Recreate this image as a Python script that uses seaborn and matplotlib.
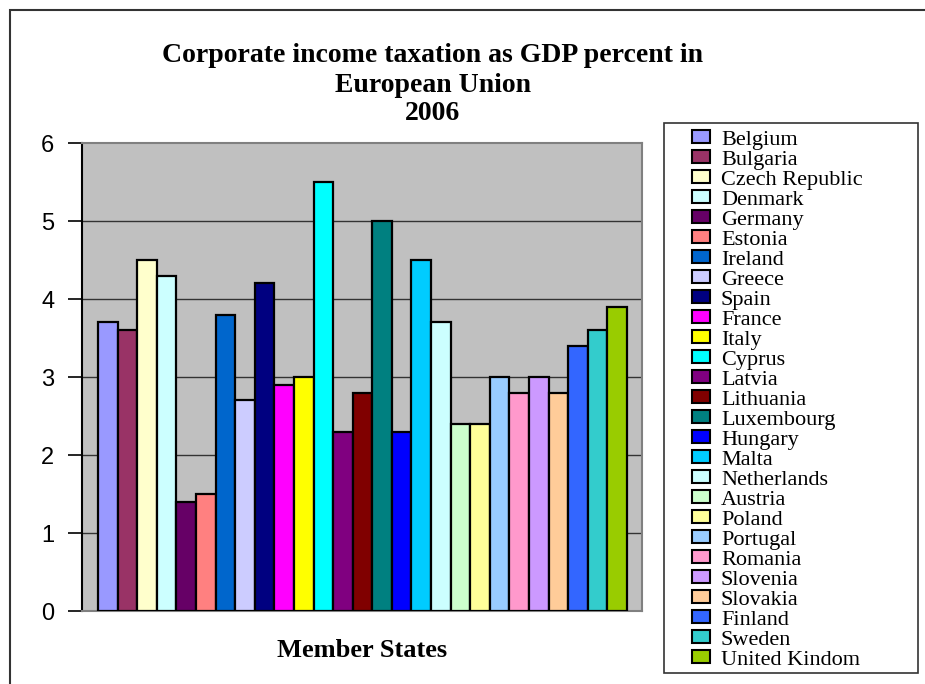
import matplotlib
matplotlib.use("Agg")
import matplotlib.pyplot as plt
import seaborn as sns
import pandas as pd
from matplotlib.patches import Patch, Rectangle

countries = ["Belgium", "Bulgaria", "Czech Republic", "Denmark", "Germany", "Estonia",
             "Ireland", "Greece", "Spain", "France", "Italy", "Cyprus", "Latvia",
             "Lithuania", "Luxembourg", "Hungary", "Malta", "Netherlands", "Austria",
             "Poland", "Portugal", "Romania", "Slovenia", "Slovakia", "Finland",
             "Sweden", "United Kindom"]
values = [3.7, 3.6, 4.5, 4.3, 1.4, 1.5, 3.8, 2.7, 4.2, 2.9, 3.0, 5.5, 2.3,
          2.8, 5.0, 2.3, 4.5, 3.7, 2.4, 2.4, 3.0, 2.8, 3.0, 2.8, 3.4, 3.6, 3.9]
colors = ["#9999FF", "#993366", "#FFFFCC", "#CCFFFF", "#660066", "#FF8080",
          "#0066CC", "#CCCCFF", "#000080", "#FF00FF", "#FFFF00", "#00FFFF",
          "#800080", "#800000", "#008080", "#0000FF", "#00CCFF", "#CCFFFF",
          "#CCFFCC", "#FFFF99", "#99CCFF", "#FF99CC", "#CC99FF", "#FFCC99",
          "#3366FF", "#33CCCC", "#99CC00"]
yticks = [0, 1, 2, 3, 4, 5, 6]
title_lines = ["Corporate income taxation as GDP percent in", "European Union", "2006"]
xlabel = "Member States"

sns.set_theme(style="white")
plt.rcParams["text.color"] = "black"
plt.rcParams["axes.labelcolor"] = "black"
plt.rcParams["ytick.color"] = "black"
W, H = 925, 684
fig = plt.figure(figsize=(W / 100, H / 100), dpi=100)
fig.patch.set_facecolor("white")

ax = fig.add_axes([82 / W, 1 - 611 / H, (642 - 82) / W, (611 - 143) / H])
ax.set_facecolor("#C0C0C0")

df = pd.DataFrame({"country": countries, "value": values})
sns.barplot(data=df, x="country", y="value", hue="country", palette=colors,
            width=1.0, edgecolor="black", linewidth=1.6, legend=False,
            saturation=1, ax=ax, zorder=3)

ax.set_ylim(0, 6)
ax.set_xlim(-1.32, 26.27 + 1.0)
ax.set_yticks(yticks)
ax.set_yticklabels([str(t) for t in yticks], family="Liberation Sans", fontsize=17, color="black")
ax.tick_params(axis="y", direction="out", length=10, width=1.2, color="black", pad=10, left=True)
ax.set_xticks([])
ax.set_ylabel("")
ax.set_xlabel(xlabel, family="Liberation Serif", fontweight="bold", fontsize=19,
              labelpad=20, color="black")

for t in [1, 2, 3, 4, 5]:
    ax.axhline(t, color="#333333", linewidth=1.0, zorder=1)

for s in ["top", "right", "bottom"]:
    ax.spines[s].set_color("#808080")
    ax.spines[s].set_linewidth(1.5)
ax.spines["left"].set_color("black")
ax.spines["left"].set_linewidth(1.5)

ys = [55, 85, 113]
for line, y in zip(title_lines, ys):
    fig.text(433 / W, 1 - y / H, line, ha="center", va="center", color="black",
             family="Liberation Serif", fontweight="bold", fontsize=20)

# legend frame
fig.patches.append(Rectangle((664 / W, 1 - 673 / H), (918 - 664) / W, (673 - 123) / H,
                             transform=fig.transFigure, fill=True, facecolor="white",
                             edgecolor="#333333", linewidth=1.2, zorder=0))

handles = [Patch(facecolor=c, edgecolor="black", linewidth=1.5) for c in colors]
leg = fig.legend(handles, countries, loc="upper left",
                 bbox_to_anchor=(692 / W, 1 - 130 / H),
                 prop={"family": "Liberation Serif", "size": 16},
                 frameon=False, borderaxespad=0, labelspacing=0.02,
                 handlelength=0.8, handleheight=0.55, handletextpad=0.5,
                 borderpad=0.0, alignment="left")
leg._legend_box.align = "left"
for txt in leg.get_texts():
    txt.set_color("black")

fig.patches.append(Rectangle((10 / W, -0.1), 1.2, 1 - 10 / H + 0.1,
                             transform=fig.transFigure, fill=False,
                             edgecolor="#333333", linewidth=1.5))

fig.savefig("out.png", dpi=100)
